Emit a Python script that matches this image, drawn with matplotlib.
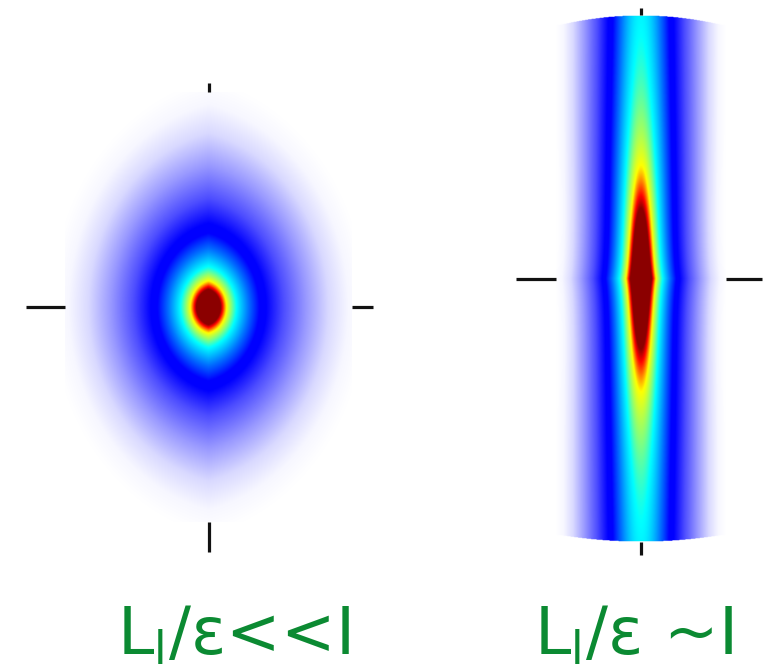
import numpy as np
import matplotlib
matplotlib.use("Agg")
import matplotlib.pyplot as plt
from matplotlib.colors import LinearSegmentedColormap, Normalize

# ---------------- data / parameters ----------------
labels = [r"L$_{l}$/ε<<I", r"L$_{l}$/ε ~I"]
label_color = "#0b8a32"

# left panel: slightly elongated blob (pixel scales)
left_half_size = [143.5, 215.0]      # half width / half height of panel (px)
left_stretch = 1.45                  # vertical / horizontal size ratio
left_ref = [28.0, 0.94]              # radius (px) at which level 0.94 (cyan) is reached
left_power = 0.834                   # level growth exponent with radius
left_lens = 0.22                     # cusp strength (lens shape)

# right panel: elongated ridge
right_half_size = [85.0, 263.5]
right_xscale = [23.5, 0.5]           # width scale at centre, growth with level along ridge
right_ymax = 1.1
right_ylen = 126.0
right_cusp = [0.7, 80.0]             # diamond-cusp share near centre, decay length
right_tail = 0.02
right_arc = [0.00143, 0.0010]        # curvature of top / bottom edge

# colour scale anchors (level -> colour)
cmap_levels = [0.0, 0.47, 0.53, 0.65, 0.80, 0.94, 1.27, 1.55, 1.72, 2.14, 2.67, 3.17, 3.6, 3.95, 6.0]
cmap_colors = ["#8b0000", "#8b0000", "#ff0000", "#ffff00", "#80ff80", "#00ffff",
               "#0070ff", "#0000ff", "#0000ff", "#4d4dff", "#9999ff", "#d9d9ff",
               "#f7f7ff", "#ffffff", "#ffffff"]

# ---------------- figure ----------------
W, H = 780, 668
fig = plt.figure(figsize=(W / 100, H / 100), dpi=100)
fig.patch.set_facecolor("white")
plt.rcParams["mathtext.default"] = "regular"

vmax = cmap_levels[-1]
cmap = LinearSegmentedColormap.from_list(
    "c", [(lv / vmax, c) for lv, c in zip(cmap_levels, cmap_colors)], N=1024)
cmap.set_bad((1, 1, 1, 0))
norm = Normalize(0, vmax)


def px_axes(l, t, r, b):
    return fig.add_axes([l / W, 1 - b / H, (r - l) / W, (b - t) / H])


def style_axes(ax, lens_px, lw=2.3):
    # lens_px: left, right, top, bottom tick lengths in px
    k = 0.72
    for s in ax.spines.values():
        s.set_visible(False)
    ax.set_xticks([0])
    ax.set_yticks([0])
    ax.set_xticklabels([])
    ax.set_yticklabels([])
    ax.tick_params(axis="y", left=True, right=False, direction="out",
                   length=lens_px[0] * k, width=lw, color="#111111")
    ax.tick_params(axis="x", bottom=True, top=False, direction="out",
                   length=lens_px[3] * k, width=lw, color="#111111")
    sy = ax.secondary_yaxis("right")
    sy.set_yticks([0])
    sy.set_yticklabels([])
    sy.tick_params(direction="out", length=lens_px[1] * k, width=lw, color="#111111")
    sy.spines["right"].set_visible(False)
    sx = ax.secondary_xaxis("top")
    sx.set_xticks([0])
    sx.set_xticklabels([])
    sx.tick_params(direction="out", length=lens_px[2] * k, width=lw, color="#111111")
    sx.spines["top"].set_visible(False)


# ---- left panel ----
axL = px_axes(65, 92, 352, 522)
hx, hy = left_half_size
x = np.linspace(-hx, hx, 574)
y = np.linspace(-hy, hy, 860)
X, Y = np.meshgrid(x, y)
kap = left_lens
R = np.sqrt((X / (1 + kap)) ** 2 + (Y / left_stretch) ** 2) + kap * np.abs(X) / (1 + kap)
DL = left_ref[1] * (R / left_ref[0]) ** left_power
axL.imshow(DL, cmap=cmap, norm=norm, extent=[-hx, hx, -hy, hy], origin="lower",
           aspect="auto", interpolation="bilinear")
axL.set_xlim(-hx, hx)
axL.set_ylim(-hy, hy)
style_axes(axL, [39, 21, 9, 30])

# ---- right panel ----
axR = px_axes(556, 15, 726, 542)
hx, hy = right_half_size
x = np.linspace(-hx, hx, 340)
y = np.linspace(-hy, hy, 1054)
X, Y = np.meshgrid(x, y)
e = right_ymax * (1 - np.exp(-np.abs(Y) / right_ylen))
lam = right_cusp[0] * np.exp(-np.abs(Y) / right_cusp[1])
q = np.abs(X) / (right_xscale[0] + right_xscale[1] * e)
DR = np.sqrt(q ** 2 + ((1 - lam) * e) ** 2) + lam * e + right_tail * q ** 2
mask = (Y > hy - right_arc[0] * X ** 2) | (Y < -hy + right_arc[1] * X ** 2)
DR = np.ma.masked_where(mask, DR)
axR.imshow(DR, cmap=cmap, norm=norm, extent=[-hx, hx, -hy, hy], origin="lower",
           aspect="auto", interpolation="bilinear")
axR.set_xlim(-hx, hx)
axR.set_ylim(-hy, hy)
style_axes(axR, [40, 36, 7, 13])

# ---- labels ----
fig.text(233 / W, 1 - 654 / H, labels[0], color=label_color, fontsize=47,
         ha="center", va="baseline", family="DejaVu Sans")
fig.text(633 / W, 1 - 654 / H, labels[1], color=label_color, fontsize=47,
         ha="center", va="baseline", family="DejaVu Sans")

fig.savefig("out.png", dpi=100, facecolor="white")
